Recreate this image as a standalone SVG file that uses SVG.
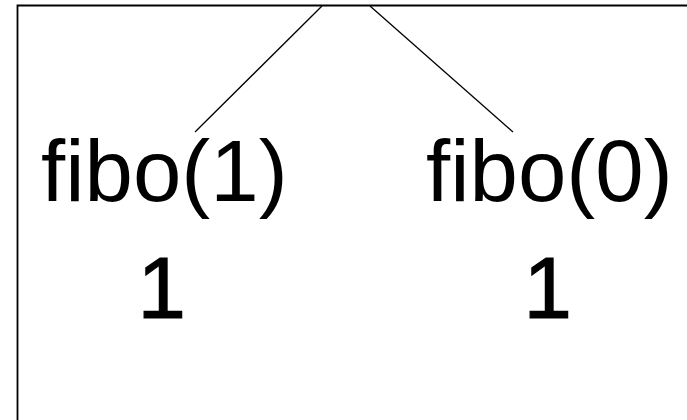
<svg xmlns="http://www.w3.org/2000/svg" width="687" height="420" viewBox="0 0 687 420">
  <style>
    .frame { fill: none; stroke: #000; stroke-width: 1.8; }
    .edge { stroke: #000; stroke-width: 1.3; fill: none; }
    .label { font-family: "Liberation Sans", Arial, sans-serif; font-size: 87px; fill: #000; }
    .value { stroke: #000; stroke-width: 1.2; }
  </style>
  <rect width="687" height="420" fill="#fff"/>
  <!-- enclosing frame (continues past the right and bottom edges) -->
  <path class="frame" d="M17.5 430 V5.5 H700"/>
  <g id="connectors">
    <line class="edge" x1="322" y1="6" x2="195" y2="132"/>
    <line class="edge" x1="370" y1="6" x2="513" y2="132"/>
  </g>
  <g id="fibo1">
    <text class="label" x="41" y="201">fibo(1)</text>
    <text class="label value" x="137.5" y="318">1</text>
  </g>
  <g id="fibo0">
    <text class="label" x="426" y="201">fibo(0)</text>
    <text class="label value" x="523.5" y="318">1</text>
  </g>
</svg>
